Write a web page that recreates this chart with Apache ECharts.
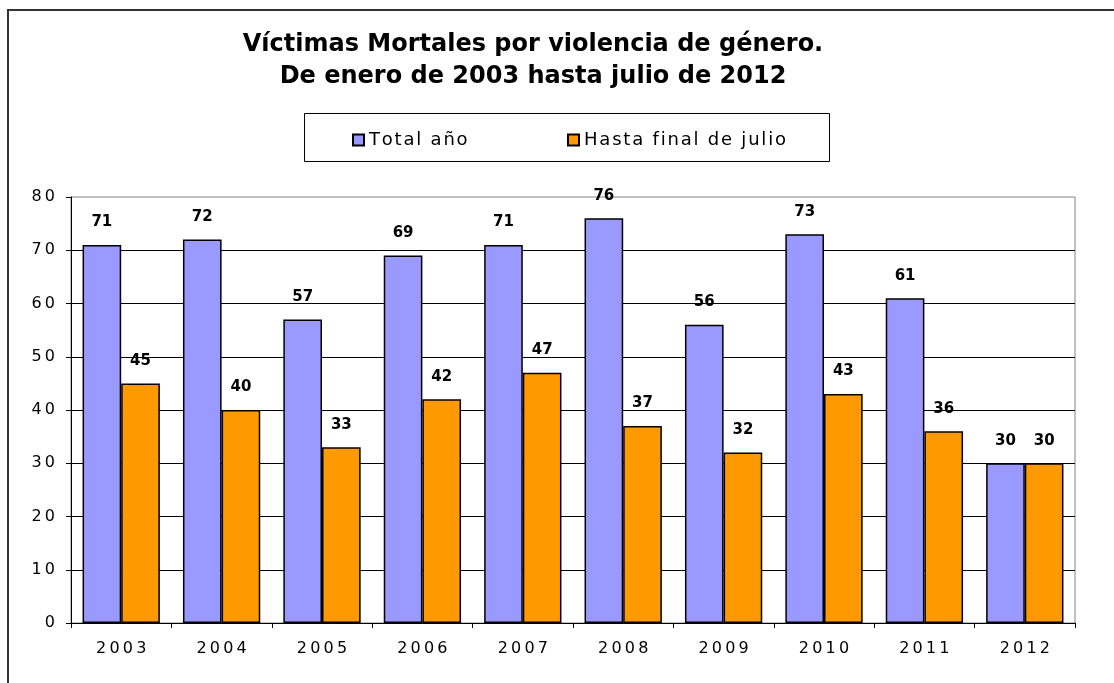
<!DOCTYPE html>
<html>
<head>
<meta charset="utf-8">
<script src="https://cdn.jsdelivr.net/npm/echarts@6/dist/echarts.min.js"></script>
<style>
  html, body { margin: 0; padding: 0; background: #fff; }
  #chart { width: 1114px; height: 683px; }
</style>
</head>
<body>
<div id="chart"></div>
<script>
// datos
var years = ['2003', '2004', '2005', '2006', '2007', '2008', '2009', '2010', '2011', '2012'];
var totalAnio = [71, 72, 57, 69, 71, 76, 56, 73, 61, 30];
var hastaJulio = [45, 40, 33, 42, 47, 37, 32, 43, 36, 30];
var seriesNames = ['Total año', 'Hasta final de julio'];
var titulo = 'Víctimas Mortales por violencia de género.\nDe enero de 2003 hasta julio de 2012';

// separa los caracteres como en el original
function spaced(s, sep) {
  return String(s).split('').join(sep || '\u2009');
}

var chart = echarts.init(document.getElementById('chart'));
var fontFam = 'DejaVu Sans';

var legendText = {
  fontFamily: fontFam,
  fontSize: 18,
  color: '#000'
};

var valueLabel = {
  show: true,
  position: 'top',
  distance: 15,
  fontFamily: fontFam,
  fontSize: 15,
  fontWeight: 'bold',
  color: '#000'
};

var option = {
  backgroundColor: '#fff',
  animation: false,
  graphic: [
    {
      type: 'rect',
      shape: { x: 8, y: 10, width: 1130, height: 700 },
      style: { fill: 'none', stroke: '#333', lineWidth: 2 },
      z: 100
    },
    {
      type: 'rect',
      shape: { x: 304.5, y: 113.5, width: 525, height: 48 },
      style: { fill: 'none', stroke: '#000', lineWidth: 1 }
    },
    {
      // titulo
      type: 'text',
      x: 533,
      y: 29,
      style: {
        text: titulo,
        align: 'center',
        verticalAlign: 'top',
        fontFamily: fontFam,
        fontSize: 24,
        fontWeight: 'bold',
        lineHeight: 32,
        fill: '#000'
      }
    }
  ],
  legend: [
    {
      data: [seriesNames[0]],
      left: 347,
      top: 126,
      icon: 'rect',
      itemWidth: 11,
      itemHeight: 11,
      formatter: function (name) { return spaced(name, '\u200a'); },
      textStyle: legendText
    },
    {
      data: [seriesNames[1]],
      left: 562,
      top: 126,
      icon: 'rect',
      itemWidth: 11,
      itemHeight: 11,
      formatter: function (name) { return spaced(name, '\u200a'); },
      textStyle: legendText
    }
  ],
  grid: {
    left: 71,
    right: 39,
    top: 197,
    bottom: 60,
    show: true,
    borderColor: '#808080',
    borderWidth: 1,
    backgroundColor: '#fff'
  },
  xAxis: {
    type: 'category',
    data: years,
    axisLine: { lineStyle: { color: '#000', width: 1 } },
    axisTick: { show: true, length: 5, lineStyle: { color: '#000' } },
    axisLabel: {
      margin: 18,
      fontFamily: fontFam,
      fontSize: 16,
      color: '#000',
      formatter: function (v) { return spaced(v); }
    }
  },
  yAxis: {
    type: 'value',
    min: 0,
    max: 80,
    interval: 10,
    axisLine: { show: true, lineStyle: { color: '#000', width: 1 } },
    axisTick: { show: true, length: 5, lineStyle: { color: '#000' } },
    axisLabel: {
      margin: 16,
      fontFamily: fontFam,
      fontSize: 16,
      color: '#000',
      formatter: function (v) { return spaced(v); }
    },
    splitLine: {
      show: true,
      showMaxLine: false,
      lineStyle: { color: '#000', width: 1 }
    }
  },
  series: [
    {
      name: seriesNames[0],
      type: 'bar',
      data: totalAnio,
      barGap: '0%',
      barCategoryGap: '23%',
      itemStyle: { color: '#9999FF', borderColor: '#000', borderWidth: 1.5 },
      label: valueLabel
    },
    {
      name: seriesNames[1],
      type: 'bar',
      data: hastaJulio,
      barGap: '0%',
      barCategoryGap: '23%',
      itemStyle: { color: '#FF9900', borderColor: '#000', borderWidth: 1.5 },
      label: valueLabel
    }
  ]
};

chart.setOption(option);
</script>
</body>
</html>
